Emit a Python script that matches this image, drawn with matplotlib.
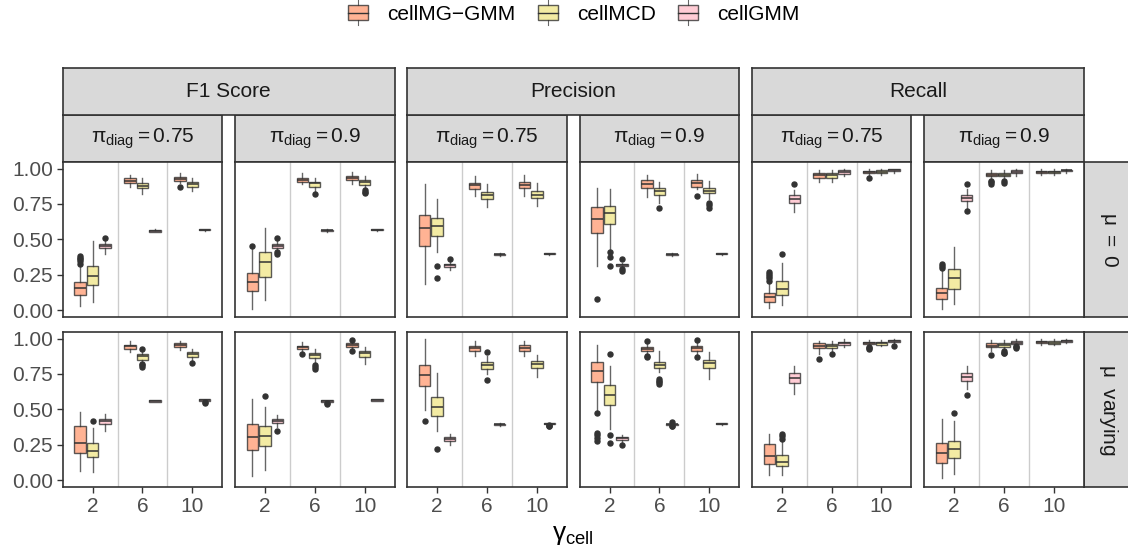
import matplotlib
matplotlib.use('Agg')
import matplotlib.pyplot as plt
from matplotlib.patches import Rectangle, Patch
from matplotlib.lines import Line2D
from matplotlib.legend_handler import HandlerBase

plt.rcParams['font.family'] = ['Liberation Sans', 'DejaVu Sans']
plt.rcParams['mathtext.fontset'] = 'custom'
plt.rcParams['mathtext.rm'] = 'Liberation Sans'
plt.rcParams['mathtext.it'] = 'Liberation Sans'
plt.rcParams['mathtext.bf'] = 'Liberation Sans:bold'

methods = ['cellMG\u2212GMM', 'cellMCD', 'cellGMM']
colors = ['#FFA07A', '#F0E68C', '#FFC0CB']
gammas = ['2', '6', '10']
metrics = ['F1 Score', 'Precision', 'Recall']
pi_labels = [r'$\pi_{\mathrm{diag}} = 0.75$', r'$\pi_{\mathrm{diag}} = 0.9$']
mu_labels = [r'$\mu\ =\ 0$', r'$\mu$  varying']

# box stats per panel: (whislo, q1, med, q3, whishi), order gamma 2/6/10 x method
F1_MU0_075 = [(0.03, 0.11, 0.16, 0.20, 0.31), (0.06, 0.18, 0.24, 0.31, 0.49), (0.40, 0.44, 0.455, 0.47, 0.50),
              (0.87, 0.90, 0.913, 0.93, 0.955), (0.82, 0.86, 0.878, 0.895, 0.93), (0.552, 0.556, 0.563, 0.568, 0.572),
              (0.90, 0.913, 0.927, 0.94, 0.967), (0.84, 0.871, 0.889, 0.905, 0.936), (0.562, 0.565, 0.569, 0.574, 0.576)]
F1_MU0_09 = [(0.012, 0.136, 0.202, 0.266, 0.43), (0.073, 0.238, 0.341, 0.414, 0.584), (0.43, 0.442, 0.456, 0.47, 0.50),
             (0.894, 0.908, 0.922, 0.936, 0.967), (0.842, 0.873, 0.899, 0.908, 0.93), (0.555, 0.558, 0.565, 0.569, 0.572),
             (0.894, 0.918, 0.934, 0.948, 0.972), (0.86, 0.887, 0.905, 0.92, 0.944), (0.563, 0.566, 0.569, 0.572, 0.575)]
PREC_MU0_075 = [(0.184, 0.456, 0.581, 0.675, 0.889), (0.412, 0.525, 0.595, 0.652, 0.784), (0.285, 0.306, 0.318, 0.329, 0.34),
                (0.807, 0.859, 0.882, 0.901, 0.944), (0.732, 0.788, 0.814, 0.835, 0.894), (0.386, 0.389, 0.394, 0.399, 0.402),
                (0.807, 0.864, 0.887, 0.908, 0.953), (0.736, 0.791, 0.814, 0.842, 0.896), (0.392, 0.395, 0.400, 0.404, 0.407)]
PREC_MU0_09 = [(0.313, 0.544, 0.647, 0.732, 0.866), (0.435, 0.609, 0.685, 0.736, 0.854), (0.301, 0.313, 0.322, 0.329, 0.336),
               (0.802, 0.866, 0.894, 0.918, 0.953), (0.76, 0.812, 0.838, 0.864, 0.908), (0.386, 0.389, 0.394, 0.399, 0.402),
               (0.854, 0.873, 0.899, 0.92, 0.958), (0.784, 0.824, 0.845, 0.866, 0.915), (0.392, 0.395, 0.400, 0.404, 0.407)]
REC_MU0_075 = [(0.014, 0.059, 0.092, 0.12, 0.195), (0.038, 0.108, 0.153, 0.207, 0.336), (0.694, 0.76, 0.786, 0.812, 0.849),
               (0.908, 0.936, 0.953, 0.967, 0.99), (0.908, 0.936, 0.952, 0.966, 0.99), (0.944, 0.958, 0.972, 0.986, 0.995),
               (0.952, 0.965, 0.974, 0.983, 0.995), (0.952, 0.967, 0.978, 0.988, 0.998), (0.97, 0.979, 0.988, 0.995, 1.0)]
REC_MU0_09 = [(0.007, 0.078, 0.12, 0.16, 0.278), (0.042, 0.153, 0.231, 0.294, 0.449), (0.725, 0.769, 0.793, 0.814, 0.854),
              (0.925, 0.944, 0.955, 0.967, 0.99), (0.925, 0.944, 0.955, 0.966, 0.99), (0.944, 0.965, 0.975, 0.986, 0.995),
              (0.955, 0.965, 0.974, 0.983, 0.995), (0.955, 0.965, 0.974, 0.983, 0.995), (0.97, 0.979, 0.988, 0.993, 1.0)]
F1_MUV_075 = [(0.063, 0.194, 0.267, 0.386, 0.48), (0.059, 0.164, 0.204, 0.265, 0.368), (0.351, 0.398, 0.417, 0.433, 0.468),
              (0.902, 0.923, 0.944, 0.955, 0.979), (0.831, 0.852, 0.874, 0.89, 0.92), (0.55, 0.553, 0.56, 0.565, 0.568),
              (0.918, 0.941, 0.953, 0.965, 0.984), (0.843, 0.867, 0.89, 0.902, 0.925), (0.558, 0.56, 0.566, 0.571, 0.574)]
F1_MUV_09 = [(0.03, 0.211, 0.304, 0.398, 0.574), (0.075, 0.244, 0.311, 0.384, 0.52), (0.375, 0.403, 0.419, 0.433, 0.464),
             (0.902, 0.925, 0.937, 0.948, 0.972), (0.831, 0.862, 0.883, 0.895, 0.925), (0.552, 0.555, 0.561, 0.567, 0.57),
             (0.925, 0.937, 0.953, 0.965, 0.984), (0.82, 0.867, 0.895, 0.913, 0.941), (0.56, 0.562, 0.568, 0.574, 0.577)]
PREC_MUV_075 = [(0.499, 0.663, 0.745, 0.813, 0.995), (0.347, 0.452, 0.52, 0.59, 0.754), (0.246, 0.279, 0.295, 0.309, 0.328),
                (0.878, 0.909, 0.93, 0.948, 0.979), (0.749, 0.782, 0.813, 0.834, 0.878), (0.386, 0.389, 0.394, 0.398, 0.401),
                (0.878, 0.913, 0.934, 0.953, 0.979), (0.726, 0.789, 0.817, 0.843, 0.881), (0.393, 0.395, 0.399, 0.405, 0.407)]
PREC_MUV_09 = [(0.496, 0.696, 0.773, 0.831, 0.953), (0.363, 0.534, 0.604, 0.672, 0.803), (0.269, 0.286, 0.297, 0.309, 0.323),
               (0.89, 0.913, 0.927, 0.941, 0.965), (0.761, 0.789, 0.815, 0.836, 0.909), (0.388, 0.391, 0.395, 0.399, 0.402),
               (0.89, 0.913, 0.932, 0.948, 0.972), (0.714, 0.789, 0.824, 0.848, 0.902), (0.392, 0.395, 0.399, 0.404, 0.407)]
REC_MUV_075 = [(0.035, 0.112, 0.169, 0.258, 0.328), (0.035, 0.101, 0.133, 0.176, 0.276), (0.609, 0.689, 0.721, 0.754, 0.808),
               (0.89, 0.93, 0.946, 0.965, 0.984), (0.91, 0.93, 0.946, 0.96, 0.984), (0.94, 0.953, 0.965, 0.977, 0.995),
               (0.945, 0.96, 0.968, 0.977, 0.99), (0.945, 0.956, 0.966, 0.977, 0.99), (0.962, 0.972, 0.98, 0.988, 1.0)]
REC_MUV_09 = [(0.019, 0.122, 0.192, 0.262, 0.433), (0.042, 0.157, 0.222, 0.276, 0.42), (0.644, 0.698, 0.726, 0.754, 0.808),
              (0.91, 0.937, 0.95, 0.965, 0.99), (0.915, 0.941, 0.955, 0.967, 0.99), (0.94, 0.96, 0.969, 0.979, 0.995),
              (0.955, 0.965, 0.974, 0.984, 0.995), (0.955, 0.96, 0.97, 0.979, 0.995), (0.965, 0.977, 0.984, 0.991, 1.0)]

# outliers per box, same order
F1_MU0_075_OUT = [[0.33, 0.35, 0.36, 0.37, 0.38], [], [0.513], [], [], [], [0.873], [], []]
F1_MU0_09_OUT = [[0.456], [], [0.513, 0.41, 0.40], [], [0.819], [], [], [0.85, 0.835, 0.824], []]
PREC_MU0_075_OUT = [[], [0.313, 0.231], [0.365], [], [], [], [], [], []]
PREC_MU0_09_OUT = [[0.078], [0.412, 0.379, 0.315], [0.365, 0.294, 0.278], [], [0.725], [], [0.807], [0.755, 0.74, 0.725], []]
REC_MU0_075_OUT = [[0.21, 0.225, 0.24, 0.255, 0.27], [0.40], [0.894], [], [], [], [0.936], [], []]
REC_MU0_09_OUT = [[0.30, 0.31, 0.325], [], [0.894, 0.701], [0.913, 0.905, 0.894], [0.913, 0.90], [], [], [], []]
F1_MUV_075_OUT = [[], [0.422], [], [], [0.925, 0.82, 0.81, 0.80], [], [], [0.827], [0.55, 0.545]]
F1_MUV_09_OUT = [[], [0.595], [0.351], [0.89], [0.815, 0.80, 0.785], [0.543, 0.538], [0.988, 0.909], [], []]
PREC_MUV_075_OUT = [[0.417], [0.218], [], [], [0.902, 0.707], [], [], [], [0.39, 0.385, 0.38]]
PREC_MUV_09_OUT = [[0.478, 0.337, 0.32, 0.30, 0.28], [0.89, 0.321, 0.262], [0.246], [0.984, 0.878, 0.867],
                   [0.712, 0.70, 0.69, 0.679], [0.41, 0.385, 0.38], [0.991, 0.871], [], []]
REC_MUV_075_OUT = [[], [0.328, 0.31, 0.29], [], [0.859], [0.89], [], [0.94, 0.932, 0.925], [], [0.948]]
REC_MUV_09_OUT = [[], [0.473], [0.604], [0.883], [0.909, 0.90, 0.895], [0.948, 0.94, 0.932], [], [], []]

PANELS = [[F1_MU0_075, F1_MU0_09, PREC_MU0_075, PREC_MU0_09, REC_MU0_075, REC_MU0_09],
          [F1_MUV_075, F1_MUV_09, PREC_MUV_075, PREC_MUV_09, REC_MUV_075, REC_MUV_09]]
OUTLIERS = [[F1_MU0_075_OUT, F1_MU0_09_OUT, PREC_MU0_075_OUT, PREC_MU0_09_OUT, REC_MU0_075_OUT, REC_MU0_09_OUT],
            [F1_MUV_075_OUT, F1_MUV_09_OUT, PREC_MUV_075_OUT, PREC_MUV_09_OUT, REC_MUV_075_OUT, REC_MUV_09_OUT]]

W, H = 1128, 552
fig = plt.figure(figsize=(W / 100, H / 100), dpi=100)
DARK = '#333333'
STRIP = '#D9D9D9'
FS = 15


def px_axes(x0, y0, x1, y1):
    return fig.add_axes([x0 / W, 1 - y1 / H, (x1 - x0) / W, (y1 - y0) / H])


def strip(ax, text, rot=0):
    ax.set_facecolor(STRIP)
    ax.set_xticks([]); ax.set_yticks([])
    for s in ax.spines.values():
        s.set_color(DARK); s.set_linewidth(1.2)
    ax.text(0.5, 0.5, text, transform=ax.transAxes, ha='center', va='center',
            fontsize=FS, color='#1A1A1A', rotation=rot)


col_left = [62.7 + 172.3 * i for i in range(6)]
pw = 159.5
row_top = [161.7, 331.7]
ph = 155.5
strip1 = (67.7, 115.0)

for c in range(6):
    ax = px_axes(col_left[c], strip1[1], col_left[c] + pw, row_top[0])
    strip(ax, pi_labels[c % 2])
for k in range(3):
    ax = px_axes(col_left[2 * k], strip1[0], col_left[2 * k + 1] + pw, strip1[1])
    strip(ax, metrics[k])
for r in range(2):
    ax = px_axes(col_left[5] + pw, row_top[r], 1134, row_top[r] + ph)
    strip(ax, mu_labels[r], rot=-90)

for r in range(2):
    for c in range(6):
        ax = px_axes(col_left[c], row_top[r], col_left[c] + pw, row_top[r] + ph)
        stats, pos = [], []
        for k, (row, fl) in enumerate(zip(PANELS[r][c], OUTLIERS[r][c])):
            g, m = divmod(k, 3)
            lo, q1, med, q3, hi = row
            stats.append(dict(whislo=lo, q1=q1, med=med, q3=q3, whishi=hi, fliers=fl))
            pos.append(g + 1 + (m - 1) * 0.25)
        bp = ax.bxp(stats, positions=pos, widths=0.23, patch_artist=True, showcaps=False,
                    manage_ticks=False,
                    boxprops=dict(edgecolor=DARK, linewidth=1.0, alpha=0.8),
                    whiskerprops=dict(color=DARK, linewidth=1.0, alpha=0.75),
                    medianprops=dict(color=DARK, linewidth=1.1),
                    flierprops=dict(marker='o', markerfacecolor=DARK, markeredgecolor=DARK,
                                    markersize=3.6, linestyle='none'))
        for k, box in enumerate(bp['boxes']):
            box.set_facecolor(colors[k % 3])
            box.set_zorder(2)
        for v in (1.5, 2.5):
            ax.axvline(v, color='#CCCCCC', linewidth=1.0, zorder=0)
        ax.set_xlim(0.4, 3.6)
        ax.set_ylim(-0.048, 1.048)
        for s in ax.spines.values():
            s.set_color(DARK); s.set_linewidth(1.2)
        ax.tick_params(colors=DARK, width=1.0, length=4.5, labelsize=FS, labelcolor='#4D4D4D', pad=2.5)
        ax.set_xticks([1, 2, 3])
        ax.set_yticks([0, 0.25, 0.5, 0.75, 1.0])
        if r == 1:
            ax.set_xticklabels(gammas)
        else:
            ax.tick_params(axis='x', length=0, labelbottom=False)
        if c == 0:
            ax.set_yticklabels(['0.00', '0.25', '0.50', '0.75', '1.00'])
        else:
            ax.tick_params(axis='y', length=0, labelleft=False)

fig.text(573 / W, 1 - 535 / H, r'$\gamma_{\mathrm{cell}}$', ha='center', va='center', fontsize=19)


class BoxKey(HandlerBase):
    def create_artists(self, legend, orig, xd, yd, width, height, fontsize, trans):
        x0, y0 = xd, yd
        cx = x0 + width / 2
        box = Rectangle((x0 + 1, y0), width - 2, height, facecolor=orig.get_facecolor(),
                        edgecolor=DARK, linewidth=1.0, alpha=0.8, transform=trans)
        med = Line2D([x0 + 1, x0 + width - 1], [y0 + height / 2] * 2, color=DARK, lw=1.0, transform=trans)
        w1 = Line2D([cx, cx], [y0 + height, y0 + height * 1.3], color=DARK, lw=0.8, alpha=0.75, transform=trans)
        w2 = Line2D([cx, cx], [y0, y0 - height * 0.3], color=DARK, lw=0.8, alpha=0.75, transform=trans)
        return [box, med, w1, w2]


handles = [Patch(facecolor=col) for col in colors]
fig.legend(handles, methods, loc='center', bbox_to_anchor=(573 / W, 1 - 15 / H), ncol=3, frameon=False,
           fontsize=FS, handler_map={Patch: BoxKey()}, handlelength=1.1, handleheight=0.75,
           handletextpad=0.85, columnspacing=1.0)

fig.savefig('out.png', dpi=100)
